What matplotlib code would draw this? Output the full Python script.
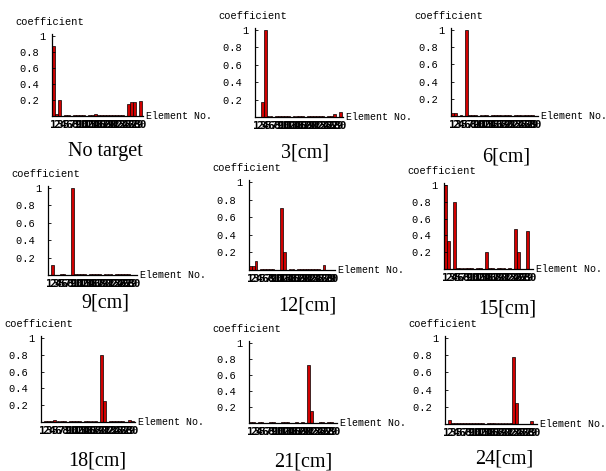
import numpy as np
import matplotlib
matplotlib.use("Agg")
import matplotlib.pyplot as plt

W, H = 606, 471

elements = list(range(1, 31))
captions = ["No target", "3[cm]", "6[cm]", "9[cm]", "12[cm]", "15[cm]",
            "18[cm]", "21[cm]", "24[cm]"]

no_target = [0.88, 0.03, 0.20, 0.0, 0.01, 0.01, 0.0, 0.01, 0.01, 0.01,
             0.01, 0.0, 0.01, 0.01, 0.02, 0.01, 0.01, 0.01, 0.01, 0.01,
             0.01, 0.01, 0.01, 0.01, 0.0, 0.15, 0.17, 0.17, 0.0, 0.19]
cm3 = [0.0, 0.0, 0.17, 1.0, 0.01, 0.01, 0.0, 0.01, 0.01, 0.01,
       0.01, 0.01, 0.0, 0.01, 0.01, 0.01, 0.01, 0.0, 0.01, 0.01,
       0.01, 0.01, 0.01, 0.01, 0.0, 0.01, 0.01, 0.03, 0.0, 0.06]
cm6 = [0.03, 0.03, 0.0, 0.01, 0.0, 1.0, 0.01, 0.01, 0.01, 0.0,
       0.01, 0.01, 0.01, 0.0, 0.01, 0.01, 0.01, 0.01, 0.01, 0.01,
       0.01, 0.0, 0.01, 0.01, 0.01, 0.01, 0.01, 0.01, 0.01, 0.0]
cm9 = [0.0, 0.12, 0.0, 0.0, 0.01, 0.01, 0.0, 0.0, 1.0, 0.01,
       0.01, 0.01, 0.01, 0.0, 0.01, 0.01, 0.01, 0.01, 0.0, 0.01,
       0.01, 0.01, 0.0, 0.01, 0.01, 0.01, 0.01, 0.01, 0.0, 0.0]
cm12 = [0.05, 0.05, 0.10, 0.0, 0.01, 0.01, 0.01, 0.01, 0.01, 0.0,
        0.0, 0.70, 0.20, 0.0, 0.01, 0.01, 0.0, 0.01, 0.01, 0.01,
        0.01, 0.01, 0.01, 0.01, 0.01, 0.0, 0.06, 0.0, 0.0, 0.0]
cm15 = [1.0, 0.33, 0.0, 0.80, 0.01, 0.01, 0.01, 0.01, 0.01, 0.01,
        0.0, 0.01, 0.01, 0.0, 0.20, 0.01, 0.01, 0.0, 0.01, 0.01,
        0.01, 0.0, 0.01, 0.0, 0.48, 0.20, 0.0, 0.0, 0.45, 0.0]
cm18 = [0.0, 0.01, 0.01, 0.01, 0.02, 0.01, 0.01, 0.01, 0.0, 0.01,
        0.01, 0.01, 0.01, 0.0, 0.01, 0.01, 0.01, 0.01, 0.0, 0.80,
        0.25, 0.0, 0.01, 0.01, 0.01, 0.01, 0.01, 0.0, 0.02, 0.01]
cm21 = [0.01, 0.01, 0.0, 0.01, 0.01, 0.0, 0.0, 0.01, 0.01, 0.0,
        0.0, 0.01, 0.01, 0.01, 0.0, 0.0, 0.01, 0.0, 0.01, 0.0,
        0.72, 0.15, 0.0, 0.0, 0.01, 0.01, 0.0, 0.01, 0.01, 0.0]
cm24 = [0.0, 0.05, 0.01, 0.01, 0.01, 0.01, 0.01, 0.01, 0.01, 0.01,
        0.01, 0.01, 0.01, 0.0, 0.01, 0.01, 0.01, 0.01, 0.01, 0.01,
        0.01, 0.01, 0.78, 0.25, 0.0, 0.0, 0.0, 0.0, 0.04, 0.0]
series = [no_target, cm3, cm6, cm9, cm12, cm15, cm18, cm21, cm24]

# axis box in pixels: left, right, top(y=1), baseline
boxes = [(52, 143, 36, 116), (255, 343, 30, 117), (451, 538, 30, 116),
         (48, 137, 188, 275), (249, 335, 182, 270), (444, 533, 185, 269),
         (41, 135, 338, 422), (249, 337, 343, 423), (445, 537, 338, 424)]
# caption centre in pixels
cap_pos = [(105, 152), (305, 153), (506, 157),
           (105, 303), (307, 306), (507, 309),
           (97, 461), (303, 462), (504, 459)]

mono = "Liberation Mono"
serif = "Liberation Serif"

fig = plt.figure(figsize=(W / 100, H / 100), dpi=100)
fig.patch.set_facecolor("white")

for vals, (x0, x1, yt, yb), cap, (cx, cy) in zip(series, boxes, captions, cap_pos):
    ax = fig.add_axes([x0 / W, 1 - yb / H, (x1 - x0) / W, (yb - yt) / H])
    ax.bar(elements, vals, width=0.95, color="#d00000", edgecolor="black",
           linewidth=0.5)
    ax.set_xlim(0.5, 30.9)
    ax.set_ylim(0, 1.0)
    for s in ("top", "right"):
        ax.spines[s].set_visible(False)
    ax.spines["left"].set_linewidth(0.9)
    ax.spines["bottom"].set_linewidth(0.9)
    ax.spines["left"].set_bounds(0, 1.02)
    ax.set_yticks([0.2, 0.4, 0.6, 0.8, 1.0])
    ax.set_yticklabels(["0.2 ", "0.4 ", "0.6 ", "0.8 ", "1"],
                       family=mono, fontsize=7.5)
    ax.set_xticks(elements)
    ax.set_xticklabels([str(e) for e in elements], family="DejaVu Sans Mono",
                       fontsize=8, fontweight="bold")
    ax.tick_params(axis="y", length=2, width=0.6, pad=5, direction="in")
    ax.tick_params(axis="x", length=0, pad=3)
    ax.patch.set_alpha(0)

    fig.text((x0 - 37) / W, 1 - (yt - 14) / H, "coefficient", family=mono,
             fontsize=7.5, ha="left", va="center")
    fig.text((x1 + 3) / W, 1 - yb / H, "Element No.", family=mono,
             fontsize=7.2, ha="left", va="center")
    fig.text(cx / W, 1 - cy / H, cap, family=serif, fontsize=14.5,
             ha="center", va="center")

fig.savefig("out.png", dpi=100)
